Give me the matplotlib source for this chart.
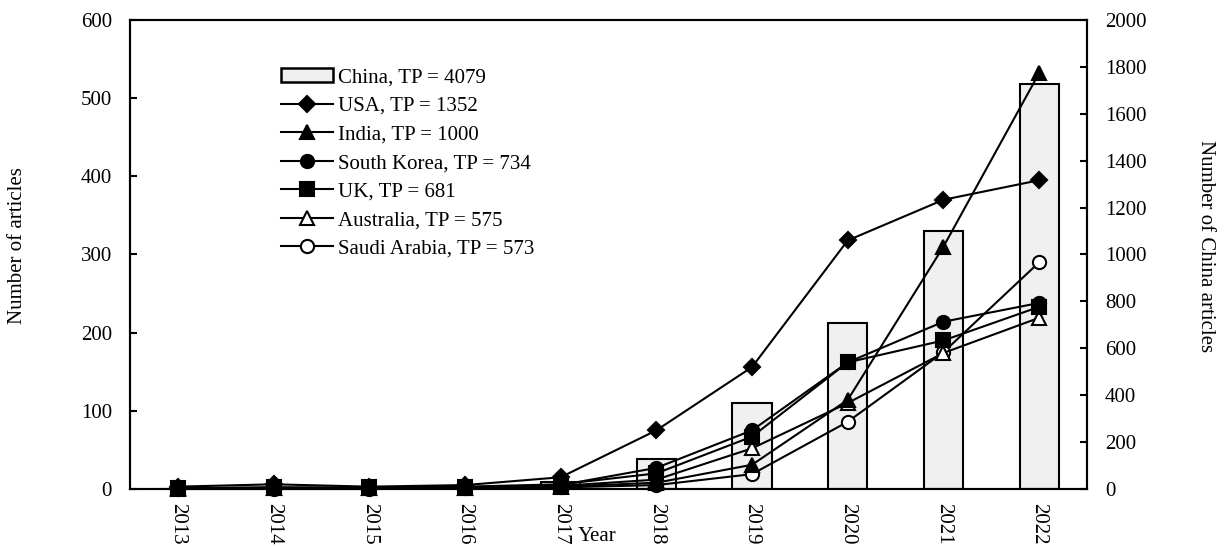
import matplotlib
matplotlib.use("Agg")
import matplotlib.pyplot as plt
import numpy as np
from matplotlib.patches import Patch

plt.rcParams["font.family"] = "Liberation Serif"
plt.rcParams["font.size"] = 15

years = ["2013", "2014", "2015", "2016", "2017", "2018", "2019", "2020", "2021", "2022"]
china = [2, 4, 5, 8, 30, 128, 367, 708, 1100, 1727]
usa = [3, 6, 3, 5, 15, 75, 156, 318, 370, 395]
india = [1, 1, 1, 1, 3, 8, 31, 114, 310, 532]
south_korea = [1, 2, 1, 2, 5, 27, 75, 162, 214, 238]
uk = [1, 2, 2, 3, 6, 20, 67, 162, 190, 233]
australia = [0, 1, 1, 1, 4, 12, 52, 110, 174, 219]
saudi_arabia = [0, 0, 0, 1, 2, 5, 19, 86, 175, 290]

series = [
    ("USA, TP = 1352", usa, "D", "black", 8),
    ("India, TP = 1000", india, "^", "black", 10),
    ("South Korea, TP = 734", south_korea, "o", "black", 9.5),
    ("UK, TP = 681", uk, "s", "black", 9.5),
    ("Australia, TP = 575", australia, "^", "white", 10),
    ("Saudi Arabia, TP = 573", saudi_arabia, "o", "white", 9.5),
]

fig = plt.figure(figsize=(12.31, 5.46), dpi=100)
ax = fig.add_axes([0.1056, 0.1044, 0.7774, 0.859])
ax2 = ax.twinx()

x = np.arange(len(years))
ax2.bar(x, china, width=0.41, color="#f0f0f0", edgecolor="black", linewidth=1.5)
ax2.set_ylim(0, 2000)
ax2.set_yticks(np.arange(0, 2001, 200))
ax2.tick_params(axis="y", direction="in", length=5, width=1.5, pad=13)

ax.set_zorder(ax2.get_zorder() + 1)
ax.patch.set_visible(False)

handles = [Patch(facecolor="#f0f0f0", edgecolor="black", linewidth=1.8,
                 label="China, TP = 4079")]
# open markers sit underneath the filled ones
for i, (label, vals, mk, fc, ms) in enumerate(series):
    (ln,) = ax.plot(x, vals, color="black", linewidth=1.5, marker=mk,
                    markersize=ms, markerfacecolor=fc, markeredgecolor="black",
                    markeredgewidth=1.5, label=label, clip_on=False,
                    zorder=10 - i)
    handles.append(ln)

ax.set_ylim(0, 600)
ax.set_yticks(np.arange(0, 601, 100))
ax.set_xlim(-0.5, len(years) - 0.5)
ax.set_xticks(x)
ax.set_xticklabels(years, rotation=-90)
ax.tick_params(axis="x", length=0, pad=10)
ax.tick_params(axis="y", direction="in", length=5, width=1.5, pad=13)

for a in (ax, ax2):
    for sp in a.spines.values():
        sp.set_linewidth(1.5)

ax.legend(handles=handles, loc="upper left", bbox_to_anchor=(0.2215, 0.891),
          bbox_transform=fig.transFigure, frameon=False, handlelength=2.5,
          handletextpad=0.25, labelspacing=0.43, borderaxespad=0, fontsize=15)

fig.text(0.014, 0.55, "Number of articles", rotation=90, ha="center", va="center", fontsize=15)
fig.text(0.979, 0.55, "Number of China articles", rotation=-90, ha="center", va="center", fontsize=15)
fig.text(0.485, 0.0165, "Year", ha="center", va="center", fontsize=15)

fig.savefig("out.png", dpi=100)
